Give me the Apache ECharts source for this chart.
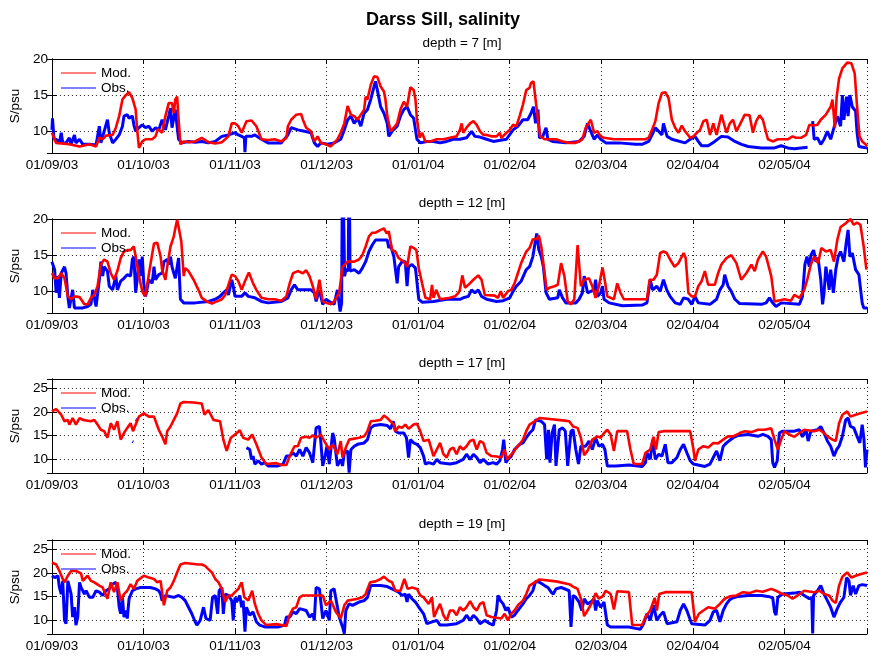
<!DOCTYPE html>
<html>
<head>
<meta charset="utf-8">
<script src="https://cdn.jsdelivr.net/npm/echarts@6/dist/echarts.min.js"></script>
<style>
html, body { margin: 0; padding: 0; background: #fff; }
#main { width: 870px; height: 658px; }
</style>
</head>
<body>
<div id="main"></div>
<script>
// days since 01/09/2003, salinity in psu
var tickLabels = ['01/09/03', '01/10/03', '01/11/03', '01/12/03', '01/01/04', '01/02/04', '02/03/04', '02/04/04', '02/05/04'];
var depths = [7, 12, 17, 19];

var mod7 = [[0,9.8],[1.4,8.4],[5.8,8.2],[9.2,7.9],[12.5,8.2],[14.7,7.9],[15.8,9.1],[16.9,8.9],[18.0,9.4],[20.2,9.5],[21.3,10.5],[22.4,12.1],[23.5,14.4],[24.6,15.0],[25.7,15.4],[26.8,14.6],[27.9,13.0],[28.4,10.2],[29.0,7.7],[30.1,8.6],[31.2,8.9],[33.4,8.9],[34.5,9.3],[35.3,10.3],[36.7,9.8],[37.8,12.1],[38.9,13.9],[40.0,13.9],[40.6,12.5],[41.1,14.4],[41.7,14.8],[42.2,11.6],[42.8,8.2],[43.9,8.6],[45.5,8.5],[47.7,8.6],[49.9,9.1],[52.1,8.5],[54.4,8.3],[56.6,8.5],[58.8,9.3],[59.9,11.1],[61.0,11.1],[62.1,10.7],[63.2,9.8],[64.8,11.4],[66.5,11.5],[68.1,10.7],[69.8,8.9],[72.0,8.8],[74.2,8.9],[76.4,8.6],[78.1,9.1],[78.6,10.7],[79.7,11.6],[81.4,12.3],[83.0,12.4],[83.6,11.6],[84.7,10.5],[86.3,10.0],[87.4,8.6],[88.5,9.3],[89.6,8.4],[91.3,8.2],[92.9,7.9],[94.0,8.4],[95.1,8.9],[96.2,9.8],[97.4,11.1],[98.5,13.5],[99.6,12.3],[100.7,12.1],[101.8,11.6],[102.9,12.3],[104.0,13.0],[104.5,14.8],[105.1,14.4],[106.2,16.4],[107.3,17.6],[108.4,17.5],[109.5,16.2],[110.6,15.5],[111.1,14.4],[111.7,12.1],[112.8,10.0],[113.9,10.5],[115.0,11.1],[116.1,13.0],[117.2,14.1],[118.3,13.4],[119.4,16.1],[120.5,15.7],[121.1,14.4],[121.6,11.6],[122.5,9.1],[123.3,9.8],[124.4,8.6],[126.0,8.6],[128.2,8.9],[130.4,8.9],[132.6,9.1],[134.8,9.3],[135.9,10.2],[136.5,11.1],[137.0,9.8],[138.1,10.5],[139.3,11.1],[140.4,11.4],[141.5,10.9],[142.6,10.0],[143.7,9.5],[144.8,9.5],[146.4,9.3],[148.1,9.3],[149.2,9.8],[149.7,9.1],[151.4,9.8],[152.5,10.2],[153.6,10.9],[154.7,10.7],[155.8,12.1],[156.9,13.7],[158.0,15.7],[159.1,16.0],[159.6,16.7],[160.4,16.9],[161.1,14.4],[161.9,11.6],[162.7,9.3],[164.1,8.9],[167.9,8.9],[170.1,8.6],[172.3,8.4],[174.5,8.4],[176.7,8.9],[177.8,10.5],[179.5,11.6],[180.6,9.8],[181.7,10.0],[182.8,9.3],[183.9,9.1],[187.2,8.9],[192.2,8.9],[197.7,8.9],[198.8,9.1],[199.9,10.2],[201.0,11.4],[202.1,13.9],[203.2,15.3],[204.3,15.4],[205.4,14.6],[206.5,11.6],[207.6,10.5],[208.7,9.8],[209.8,10.8],[210.9,10.0],[212.6,9.1],[213.7,9.3],[214.8,9.8],[215.9,10.2],[217.0,11.4],[218.1,11.6],[219.2,9.5],[220.3,11.1],[221.4,9.5],[223.0,12.3],[223.6,12.5],[224.7,9.8],[225.8,11.1],[226.9,11.6],[228.0,10.0],[229.1,10.9],[230.8,12.3],[232.4,12.2],[233.5,9.8],[234.6,11.4],[235.7,12.2],[236.8,11.6],[238.5,8.9],[240.1,8.6],[241.8,8.9],[245.1,8.9],[246.7,9.3],[247.8,9.1],[249.5,9.1],[251.2,9.5],[252.3,10.9],[253.9,10.8],[255.0,10.9],[256.1,11.6],[257.8,12.3],[259.4,13.4],[260.0,14.4],[260.8,10.5],[261.4,14.8],[262.2,17.3],[263.3,18.7],[264.9,19.5],[266.3,19.4],[267.4,18.0],[268.2,13.4],[269.0,9.3],[269.9,8.6],[271.0,8.2],[271.5,7.9]];

var obs7 = [[0,10.2],[0.2,11.8],[0.7,8.9],[1.4,8.9],[2.5,8.4],[3.1,9.8],[3.6,8.4],[4.7,8.4],[5.8,9.1],[6.4,8.2],[7.5,9.5],[8.0,8.4],[9.2,8.9],[10.3,8.2],[12.5,8.2],[14.7,8.1],[15.8,10.7],[16.3,8.4],[17.4,10.0],[18.5,11.6],[19.1,9.8],[20.2,8.4],[21.3,8.9],[22.4,9.5],[23.5,10.7],[24.0,12.1],[25.1,12.3],[25.7,11.8],[26.8,12.1],[27.3,10.9],[27.9,10.0],[29.0,10.5],[30.1,10.9],[31.2,10.5],[32.3,10.7],[33.4,10.0],[34.5,10.5],[35.6,10.2],[36.7,11.6],[37.8,10.2],[38.9,12.1],[39.5,13.2],[40.0,10.5],[41.1,13.0],[41.7,10.7],[42.2,8.9],[43.3,8.4],[45.5,8.6],[47.7,8.5],[49.9,8.6],[52.1,8.4],[54.4,8.6],[56.6,9.3],[58.8,9.5],[61.0,9.8],[62.1,9.5],[63.2,9.3],[64.1,9.1],[64.3,7.1],[64.6,9.3],[66.5,9.3],[67.6,9.5],[69.8,8.9],[72.0,8.4],[76.4,8.4],[78.6,9.5],[79.7,10.5],[81.9,10.2],[84.1,10.0],[86.3,9.8],[87.4,8.4],[88.5,7.9],[89.6,8.4],[91.8,8.2],[94.0,8.4],[96.2,8.9],[97.4,10.2],[98.5,11.6],[99.6,12.1],[100.7,11.1],[101.8,11.8],[102.9,10.7],[104.0,12.5],[105.1,13.0],[106.2,14.4],[107.3,16.2],[107.8,16.9],[108.4,15.7],[109.5,13.4],[110.6,12.5],[111.7,11.1],[112.2,9.3],[113.3,10.0],[115.0,10.7],[116.1,12.1],[117.2,13.0],[118.3,13.4],[119.4,12.3],[120.5,11.8],[121.1,10.2],[121.6,8.9],[122.7,8.4],[124.9,8.6],[127.1,8.6],[129.3,8.4],[131.5,8.6],[133.7,8.9],[135.9,8.9],[138.1,9.1],[139.8,10.0],[140.9,9.3],[142.6,9.2],[144.8,8.9],[147.0,8.6],[151.4,8.9],[153.6,10.2],[155.2,10.7],[156.9,11.6],[158.5,11.6],[159.6,12.5],[160.4,13.4],[161.1,11.1],[161.9,13.0],[162.4,9.1],[163.5,9.3],[164.6,10.5],[165.2,8.9],[166.8,8.6],[171.2,8.4],[175.6,8.6],[177.3,9.3],[178.4,11.1],[179.5,10.0],[180.6,8.9],[181.7,9.5],[182.8,8.9],[184.5,8.4],[188.9,8.4],[194.4,8.2],[196.6,8.2],[198.8,8.6],[199.9,9.5],[201.0,10.5],[202.1,10.0],[203.2,9.5],[203.7,11.1],[204.9,9.3],[206.5,8.9],[210.9,8.4],[212.6,8.9],[214.2,9.3],[215.3,8.6],[216.4,8.0],[218.6,8.0],[220.8,8.6],[223.0,9.3],[225.2,9.2],[227.5,8.6],[229.7,8.2],[231.9,7.9],[236.3,7.7],[240.7,7.7],[242.9,8.0],[245.1,7.7],[247.3,7.6],[251.7,7.8],[252.5,null],[253.4,11.4],[253.9,8.9],[255.0,9.1],[256.1,8.2],[257.2,8.9],[258.3,10.0],[259.4,8.9],[260.5,10.5],[261.6,12.1],[262.7,10.7],[263.3,15.0],[263.8,11.6],[264.7,14.8],[265.2,12.1],[265.8,15.0],[266.6,13.4],[267.7,12.8],[268.2,9.8],[268.8,7.9],[271.5,7.7]];

var mod12 = [[0,12.5],[0.9,11.8],[2.0,11.8],[3.1,12.5],[4.2,11.8],[5.3,9.3],[6.4,8.9],[7.5,9.3],[9.2,9.2],[10.8,8.2],[11.9,8.2],[13.0,9.1],[14.1,9.5],[15.2,10.7],[16.3,13.7],[17.4,14.4],[18.5,14.1],[19.6,12.5],[20.7,11.6],[21.8,12.8],[22.9,14.6],[24.0,15.5],[25.1,15.7],[26.2,15.7],[27.3,16.2],[27.9,14.8],[29.0,12.1],[30.1,10.0],[31.0,9.3],[31.8,11.1],[32.9,13.9],[34.0,16.6],[35.1,16.7],[36.2,14.8],[36.7,13.0],[37.8,11.6],[38.4,13.4],[39.5,16.2],[40.6,17.6],[41.1,18.7],[41.7,19.9],[42.2,18.9],[43.1,16.9],[43.9,12.1],[44.4,13.2],[45.5,12.8],[47.2,11.6],[48.8,10.2],[49.9,9.1],[51.6,8.6],[53.3,8.3],[54.9,8.6],[56.6,8.9],[57.7,9.5],[58.8,10.9],[59.9,12.3],[61.0,12.1],[62.1,11.4],[63.2,10.2],[64.3,11.4],[65.6,12.6],[67.0,11.1],[68.1,10.2],[69.8,9.1],[72.0,8.9],[74.2,8.9],[76.4,8.7],[78.1,9.3],[79.2,11.1],[80.3,12.5],[81.9,12.8],[83.6,12.5],[84.7,12.9],[85.8,12.1],[86.9,10.7],[88.0,8.9],[89.1,11.6],[90.2,8.6],[91.3,8.4],[92.9,8.2],[94.0,8.6],[95.7,9.8],[96.8,13.4],[98.5,14.1],[100.7,14.1],[102.3,14.4],[103.4,15.0],[104.5,16.2],[105.6,17.6],[106.7,18.1],[107.8,18.1],[109.5,18.5],[110.6,18.7],[111.5,18.0],[112.2,18.3],[113.3,15.7],[114.4,15.5],[115.5,14.6],[117.2,14.1],[118.3,13.4],[119.4,16.2],[120.5,16.0],[121.4,15.7],[122.2,13.2],[123.3,11.1],[124.4,9.1],[126.0,8.9],[126.6,10.9],[127.1,9.1],[128.0,10.2],[129.3,8.9],[132.6,9.1],[134.3,9.3],[135.4,9.8],[135.9,10.2],[136.7,12.2],[137.6,10.5],[138.7,10.9],[140.4,11.6],[142.0,12.2],[143.1,11.6],[144.2,9.5],[147.5,9.4],[148.6,9.1],[149.5,10.0],[150.3,9.1],[151.9,10.0],[153.0,10.2],[154.1,11.1],[155.2,12.5],[156.3,13.9],[158.0,15.5],[159.1,16.0],[160.2,17.2],[161.3,17.2],[162.2,17.7],[163.0,16.2],[164.1,12.5],[164.8,10.2],[165.7,10.5],[167.4,10.7],[168.5,10.9],[169.6,13.9],[170.7,12.1],[171.8,8.6],[172.9,8.2],[174.0,8.9],[175.1,16.4],[176.2,10.7],[177.3,11.6],[178.9,11.8],[180.0,10.7],[181.1,9.1],[182.2,10.7],[183.4,13.3],[184.2,11.4],[185.0,9.3],[187.2,8.9],[188.3,11.1],[189.4,9.8],[190.5,8.9],[198.2,8.9],[199.1,11.6],[200.4,11.6],[201.5,12.3],[202.6,15.3],[203.7,15.5],[204.8,15.3],[205.9,14.4],[207.4,13.4],[208.7,13.9],[210.4,15.3],[211.1,14.6],[212.0,9.8],[213.1,9.3],[214.2,9.3],[215.3,10.7],[216.4,11.4],[217.5,12.8],[218.6,10.9],[220.8,10.9],[221.9,12.5],[223.0,13.7],[224.7,14.6],[226.3,15.0],[228.0,13.9],[229.6,11.6],[231.3,12.5],[233.0,13.7],[234.1,12.8],[235.2,14.4],[236.8,15.5],[237.9,14.8],[239.6,12.1],[240.7,8.6],[244.0,8.9],[246.2,8.7],[247.3,9.5],[249.0,9.1],[250.6,10.2],[251.7,11.8],[252.8,13.7],[253.9,14.8],[255.2,13.9],[256.3,16.0],[257.8,15.5],[259.4,15.7],[260.5,14.1],[261.6,17.1],[262.7,18.9],[264.4,19.4],[266.0,20.0],[267.1,19.2],[268.2,19.5],[269.3,19.2],[270.4,16.2],[271.3,13.0]];

var obs12 = [[0,14.1],[0.9,13.0],[1.4,9.8],[2.0,12.1],[2.5,9.1],[3.1,12.5],[4.2,13.4],[4.7,12.5],[5.3,9.3],[5.8,7.7],[6.9,10.2],[7.5,7.7],[10.3,7.7],[11.9,7.9],[13.0,8.2],[13.6,10.2],[14.7,7.9],[15.8,11.6],[16.3,14.1],[16.9,12.1],[17.4,13.4],[18.5,12.8],[19.1,10.7],[20.2,10.2],[21.3,12.1],[21.8,10.2],[22.9,11.4],[24.0,11.8],[25.1,12.3],[26.2,12.1],[26.8,14.4],[27.3,14.8],[27.9,9.8],[28.4,11.6],[29.0,14.4],[29.5,12.1],[30.1,14.8],[30.6,11.1],[31.2,9.3],[32.3,11.6],[33.4,11.1],[34.0,13.4],[34.5,11.6],[35.6,12.3],[36.7,12.5],[37.3,14.1],[38.4,14.4],[38.9,13.7],[39.5,14.8],[40.0,13.4],[41.1,11.8],[42.2,14.6],[42.8,8.9],[43.9,8.4],[47.7,8.4],[52.1,8.6],[54.4,8.9],[56.0,9.3],[57.1,9.8],[58.2,10.2],[58.8,9.5],[59.9,11.6],[60.4,10.7],[61.0,9.3],[63.2,9.3],[64.3,9.8],[65.4,9.3],[67.6,9.1],[69.8,8.6],[72.0,8.4],[76.4,8.6],[78.6,9.1],[79.7,10.2],[80.8,10.9],[81.9,10.2],[86.3,10.2],[87.4,9.8],[88.0,8.6],[89.1,10.2],[90.2,8.2],[91.3,8.9],[92.4,8.6],[94.0,8.2],[95.1,10.2],[96.0,7.2],[96.5,8.4],[96.8,30],[97.1,30],[97.5,12.1],[97.9,13.0],[98.7,12.8],[99.0,30],[99.3,12.8],[100.7,13.0],[102.3,12.5],[103.4,13.2],[104.5,14.1],[105.6,15.5],[106.7,16.4],[107.8,17.1],[111.7,17.1],[112.2,16.0],[112.8,16.4],[113.9,14.8],[115.0,11.1],[115.5,13.4],[116.6,14.1],[117.7,14.1],[118.3,10.7],[118.8,13.4],[119.9,13.7],[121.1,13.2],[122.2,8.9],[123.3,8.5],[127.1,8.6],[131.5,8.9],[135.9,8.9],[137.0,9.1],[138.7,9.3],[139.8,10.2],[140.9,9.8],[142.0,10.2],[143.1,9.3],[144.8,8.9],[148.1,8.6],[150.3,8.7],[152.5,9.1],[153.6,10.0],[154.7,10.7],[156.3,11.4],[158.0,13.0],[159.1,13.4],[160.2,14.8],[161.1,17.1],[161.5,18.0],[162.2,15.7],[163.0,14.8],[163.7,13.4],[164.6,9.8],[165.7,8.9],[168.5,9.1],[169.0,10.2],[170.1,9.1],[171.2,8.4],[174.5,8.4],[175.6,8.9],[176.7,9.8],[177.3,12.1],[178.4,9.8],[180.6,10.2],[181.1,11.6],[181.7,9.3],[182.8,9.8],[183.4,10.7],[183.9,8.9],[185.6,8.4],[190.0,8.0],[196.6,8.1],[198.2,8.4],[199.3,11.6],[200.1,10.2],[201.5,10.7],[202.6,10.0],[203.7,11.6],[204.8,10.2],[205.9,9.3],[207.6,8.4],[209.3,8.2],[210.4,9.1],[212.0,8.9],[213.1,8.2],[214.2,9.3],[215.3,8.4],[219.2,8.2],[221.4,8.9],[222.5,10.2],[223.6,10.9],[224.1,12.3],[225.2,10.7],[226.3,10.0],[227.5,8.9],[229.1,8.3],[236.3,8.2],[237.9,8.4],[239.0,9.1],[240.1,8.4],[241.2,7.9],[242.9,8.4],[249.0,8.2],[250.0,9.3],[250.8,13.7],[251.5,14.8],[252.3,13.4],[252.8,15.0],[253.7,15.7],[254.5,14.1],[255.2,14.6],[256.1,11.6],[256.7,8.2],[257.2,9.8],[257.8,13.4],[258.3,12.1],[258.9,10.2],[259.4,13.0],[260.3,9.8],[261.1,13.0],[261.9,14.8],[262.7,15.5],[263.8,14.1],[264.7,17.1],[265.2,18.5],[265.8,14.8],[266.6,15.3],[267.7,13.0],[268.8,12.3],[269.3,10.5],[269.9,8.4],[270.4,7.7],[271.5,7.7]];

var mod17 = [[0,20.1],[1.4,20.6],[2.0,20.8],[3.1,19.4],[4.2,18.0],[5.3,18.3],[5.8,17.3],[6.4,18.0],[6.9,18.7],[8.0,17.3],[9.2,18.7],[10.3,18.3],[13.0,18.0],[14.1,18.3],[15.2,17.3],[16.3,16.2],[17.4,15.9],[18.5,14.5],[19.6,17.6],[20.7,16.2],[21.8,18.0],[22.9,14.1],[24.0,15.5],[25.1,16.6],[26.2,17.6],[27.0,15.9],[27.9,17.3],[29.0,19.0],[30.6,19.7],[32.3,19.0],[34.0,19.0],[35.6,16.2],[36.7,14.8],[37.8,13.1],[38.4,15.9],[39.5,16.9],[40.6,18.3],[41.7,19.7],[42.8,21.8],[43.9,22.1],[47.2,22.0],[49.9,21.8],[50.8,19.4],[52.1,20.4],[52.7,20.1],[53.8,18.3],[56.0,18.0],[57.1,14.1],[58.2,11.7],[58.8,11.7],[59.6,14.5],[61.0,15.2],[62.6,16.1],[63.7,14.5],[65.4,14.1],[66.7,15.2],[68.1,13.1],[69.8,10.3],[71.4,8.9],[74.8,9.1],[76.4,8.7],[78.1,8.7],[79.2,10.6],[80.8,12.7],[81.9,12.7],[83.0,14.5],[84.7,14.7],[85.8,14.5],[86.9,15.0],[88.0,14.5],[89.6,15.2],[90.7,13.8],[92.4,12.0],[93.5,13.1],[95.1,11.0],[96.2,13.8],[96.8,10.3],[97.9,12.4],[99.0,14.1],[102.3,14.5],[104.0,14.8],[105.1,15.9],[106.2,18.0],[107.8,18.1],[109.5,18.3],[110.6,19.2],[111.7,18.7],[112.8,18.0],[113.9,17.3],[114.4,15.9],[115.5,16.9],[116.6,16.6],[117.7,17.3],[118.8,16.4],[120.5,17.3],[121.6,17.5],[122.7,15.9],[123.8,13.8],[125.5,14.1],[127.1,10.6],[128.2,12.0],[129.3,13.4],[130.4,11.0],[131.5,10.3],[132.6,12.0],[133.7,12.4],[134.8,11.0],[135.9,12.7],[137.0,12.0],[138.1,12.7],[139.3,13.8],[140.4,14.1],[141.5,12.0],[142.6,13.8],[143.7,13.4],[144.8,11.3],[146.4,10.6],[148.1,10.5],[149.7,10.3],[150.8,12.0],[151.6,9.9],[152.5,10.6],[153.6,11.3],[154.7,12.4],[155.8,13.1],[156.9,14.1],[158.0,15.9],[159.1,17.3],[160.8,18.0],[162.4,18.7],[165.7,18.5],[170.1,18.2],[172.3,18.0],[173.6,16.9],[175.1,16.6],[176.2,14.5],[177.3,10.8],[178.4,11.7],[180.0,14.1],[181.7,14.8],[182.8,14.5],[183.9,15.5],[185.0,16.2],[186.1,15.2],[187.2,11.7],[188.3,15.9],[191.6,15.9],[192.7,12.0],[193.8,8.9],[196.6,8.9],[197.7,11.3],[199.3,12.0],[200.4,14.7],[201.2,12.0],[202.1,15.7],[203.7,15.9],[212.6,15.9],[213.7,12.0],[214.2,9.6],[215.3,12.0],[217.0,12.7],[218.6,12.4],[220.3,13.4],[221.9,13.3],[223.6,14.1],[225.2,14.8],[226.9,14.8],[229.1,15.5],[230.8,15.9],[233.0,15.7],[235.2,16.2],[237.4,16.2],[239.6,16.5],[240.7,14.1],[241.8,12.0],[242.9,14.1],[244.0,15.9],[245.6,15.2],[247.3,14.7],[249.0,15.5],[250.6,16.2],[253.9,15.9],[255.6,16.2],[257.2,15.5],[258.3,14.8],[260.0,14.1],[261.1,13.8],[262.2,17.6],[263.3,19.4],[264.9,20.1],[266.0,19.0],[267.7,19.4],[269.3,19.7],[271.5,20.1]];

var obs17 = [[26.8,13.7],[27.1,13.6],[27.4,null],[27.9,18.4],[28.2,18.3],[28.5,null],[64.8,12.4],[65.9,12.0],[66.5,9.9],[67.0,10.6],[67.6,8.9],[68.7,9.6],[69.8,8.9],[70.9,9.2],[72.0,8.5],[75.3,8.5],[77.0,8.9],[78.1,10.6],[79.2,10.6],[80.3,11.3],[81.4,10.6],[82.5,12.0],[83.6,10.6],[84.7,12.4],[85.8,11.3],[86.9,9.2],[88.0,16.6],[89.1,16.9],[89.6,13.4],[90.2,8.5],[91.0,10.6],[91.6,12.7],[92.4,8.9],[93.5,15.5],[94.0,14.5],[95.1,8.5],[96.2,9.9],[96.8,8.5],[97.4,11.3],[98.5,11.7],[99.0,7.1],[99.6,12.0],[100.7,12.7],[101.8,13.1],[104.0,13.4],[105.1,14.1],[106.2,16.6],[107.3,17.1],[109.5,17.3],[111.7,17.1],[112.8,16.4],[113.7,18.0],[114.4,15.9],[115.5,15.5],[117.2,15.5],[118.1,14.5],[118.8,10.3],[119.4,14.1],[120.5,13.4],[121.6,13.1],[122.7,12.4],[123.8,10.6],[124.4,8.9],[125.5,9.2],[127.1,8.9],[128.2,9.9],[129.3,9.2],[132.6,8.9],[134.8,9.2],[137.0,9.9],[138.1,11.0],[139.3,9.9],[140.4,11.0],[141.5,10.3],[142.6,9.2],[143.7,9.9],[145.3,8.9],[147.0,9.2],[148.1,8.9],[149.2,9.6],[150.1,12.0],[150.5,14.1],[151.2,9.2],[151.9,9.9],[153.0,10.6],[154.1,12.0],[155.8,13.1],[156.9,13.4],[158.0,14.5],[159.1,15.5],[160.2,16.2],[161.1,18.3],[163.0,18.0],[164.1,17.3],[164.8,9.9],[165.4,16.2],[165.9,9.2],[166.6,15.5],[167.4,17.3],[167.9,8.5],[169.0,16.2],[170.1,16.6],[171.0,15.9],[171.8,8.5],[172.3,12.0],[172.9,15.9],[173.6,16.2],[174.5,12.0],[175.4,8.9],[176.2,12.7],[177.8,12.7],[178.9,13.8],[180.0,12.0],[181.1,14.5],[182.2,12.7],[183.4,13.1],[184.2,12.0],[185.0,8.5],[187.8,8.5],[192.2,8.7],[196.6,8.4],[197.7,9.2],[198.2,11.3],[199.3,9.9],[200.1,14.1],[201.0,9.9],[202.1,11.0],[203.2,10.6],[204.3,13.1],[205.2,9.2],[206.5,9.2],[208.2,10.3],[209.3,12.0],[210.4,13.1],[211.5,11.3],[212.6,9.6],[213.7,8.9],[217.5,8.4],[219.2,8.9],[220.3,10.3],[221.4,11.7],[222.5,9.6],[223.6,12.7],[224.7,13.4],[226.9,14.5],[228.6,15.0],[231.9,15.2],[235.2,14.8],[236.8,15.2],[238.5,14.8],[239.6,14.1],[240.1,9.2],[240.7,8.2],[241.6,9.6],[242.3,15.5],[243.4,15.9],[247.3,15.9],[249.0,16.2],[250.0,14.7],[251.2,16.2],[251.9,13.8],[252.8,15.9],[255.0,16.2],[256.1,16.9],[257.2,15.5],[258.3,13.8],[259.4,12.7],[260.5,10.6],[261.4,12.0],[262.2,12.7],[263.3,14.8],[264.4,18.3],[265.2,18.7],[266.0,16.9],[267.1,16.6],[268.2,14.8],[269.1,13.4],[269.9,17.3],[270.5,14.1],[271.0,8.2],[271.5,12.0]];

var mod19 = [[0,22.2],[1.4,21.8],[2.5,20.4],[3.4,19.0],[4.2,18.0],[5.3,19.4],[6.4,20.4],[8.0,20.4],[9.7,19.9],[10.3,18.3],[11.9,19.4],[13.0,18.3],[14.1,18.0],[15.8,17.3],[16.9,16.9],[18.5,14.5],[19.6,18.0],[20.7,15.9],[21.8,18.0],[22.9,14.1],[24.0,15.5],[25.1,16.2],[26.2,17.6],[27.3,16.6],[28.4,18.3],[30.6,19.4],[32.3,19.0],[34.0,18.7],[35.1,18.0],[36.2,18.3],[37.3,13.1],[38.4,16.2],[39.5,16.9],[40.6,18.3],[41.7,20.1],[42.8,21.8],[44.4,22.1],[48.8,21.8],[49.9,21.8],[51.0,21.5],[52.1,20.8],[53.3,20.1],[54.4,18.7],[55.5,18.0],[56.6,16.6],[57.7,13.8],[58.8,15.2],[59.9,15.2],[61.0,15.9],[62.1,16.6],[63.2,18.0],[64.1,14.8],[65.4,14.1],[66.7,16.2],[67.6,13.4],[68.7,11.3],[69.8,9.9],[71.4,8.9],[74.8,9.1],[78.1,8.7],[79.2,11.0],[80.3,12.4],[81.4,12.7],[82.5,14.8],[83.6,15.2],[86.9,15.2],[90.2,15.2],[91.3,13.1],[92.9,14.1],[94.6,11.7],[96.2,10.3],[97.4,13.1],[98.5,14.1],[100.1,14.3],[101.8,14.5],[103.4,14.8],[104.5,15.5],[106.0,18.0],[107.8,18.2],[109.5,18.7],[110.6,19.2],[112.2,18.3],[113.3,18.0],[114.4,16.2],[116.1,16.2],[117.4,18.7],[118.5,16.6],[120.0,16.9],[121.6,16.6],[122.7,15.2],[123.8,14.8],[125.5,13.4],[126.6,14.8],[127.3,10.6],[128.2,12.0],[129.3,13.4],[130.4,11.0],[131.5,9.9],[132.6,12.0],[133.7,12.0],[134.8,11.0],[135.9,12.7],[137.0,12.0],[138.1,12.7],[139.3,14.0],[140.4,12.7],[141.5,12.0],[142.6,13.4],[143.7,13.8],[144.8,11.0],[146.4,10.6],[149.7,10.3],[150.8,11.3],[151.9,9.9],[153.0,11.3],[154.1,12.0],[155.2,13.1],[156.9,14.1],[158.0,15.5],[159.1,17.3],[160.8,18.0],[162.4,18.6],[167.9,18.2],[172.3,17.6],[173.6,17.1],[175.1,16.6],[176.2,14.5],[177.3,10.8],[178.4,12.0],[180.0,13.8],[181.1,15.7],[182.2,14.5],[183.4,15.0],[184.5,16.2],[186.1,15.5],[187.2,12.2],[188.3,16.1],[192.2,15.9],[193.3,8.9],[196.6,8.9],[197.7,10.6],[199.3,12.0],[200.8,14.7],[201.5,12.0],[202.3,15.5],[204.3,15.9],[213.1,15.9],[214.2,9.6],[215.5,11.3],[217.0,12.0],[218.6,12.7],[220.8,12.4],[222.5,13.4],[224.1,14.5],[225.8,15.0],[228.0,15.2],[230.2,15.9],[232.4,15.7],[234.6,16.2],[236.8,16.0],[239.6,16.6],[241.2,16.2],[243.4,15.5],[245.1,15.2],[246.7,14.5],[248.4,15.2],[250.6,16.2],[253.9,15.9],[255.6,16.2],[257.2,15.5],[258.9,15.2],[260.0,14.1],[261.1,13.6],[262.2,17.3],[263.3,19.2],[264.9,20.1],[266.3,19.0],[267.7,19.4],[269.3,19.7],[271.5,20.1]];

var obs19 = [[0,19.4],[0.9,19.0],[1.4,18.7],[2.0,19.4],[2.5,16.9],[3.1,15.5],[3.6,18.3],[4.2,9.9],[4.7,9.2],[5.3,18.3],[5.8,18.0],[6.4,15.5],[6.9,10.6],[7.5,12.7],[8.0,8.9],[8.6,10.6],[9.2,18.0],[9.7,16.9],[10.3,16.2],[10.8,15.5],[11.4,16.2],[12.5,14.8],[13.6,14.8],[14.7,16.2],[15.8,15.9],[16.9,15.2],[18.0,16.2],[19.1,16.6],[20.2,17.6],[21.3,18.0],[21.8,16.9],[22.4,12.7],[22.9,11.3],[23.5,14.8],[24.0,10.6],[24.6,12.0],[25.1,10.3],[25.7,14.5],[26.8,16.2],[27.9,16.6],[29.5,16.9],[32.8,16.9],[34.5,16.6],[35.6,16.2],[36.2,15.5],[36.7,14.1],[37.8,15.2],[40.6,14.8],[42.2,15.2],[43.3,14.8],[44.4,14.1],[45.5,12.7],[46.6,11.3],[47.7,9.6],[48.3,8.9],[49.4,9.9],[50.5,12.7],[51.3,10.3],[52.7,9.9],[53.5,14.8],[54.4,15.2],[55.2,11.3],[55.7,16.2],[56.6,16.9],[57.1,11.3],[57.7,15.5],[58.8,15.2],[59.9,14.1],[60.4,9.9],[61.0,14.8],[61.5,13.8],[62.6,15.2],[63.2,12.7],[63.7,14.1],[64.3,7.5],[64.8,12.7],[65.9,11.0],[67.0,11.7],[68.1,9.6],[69.2,8.9],[70.9,8.5],[75.3,8.5],[77.5,8.9],[78.1,10.6],[79.2,10.6],[80.3,11.7],[81.4,11.3],[82.5,12.4],[84.7,12.0],[85.8,10.6],[86.9,11.3],[87.4,9.9],[88.0,16.9],[89.1,16.6],[90.2,10.3],[91.3,12.0],[92.4,9.9],[92.9,16.2],[94.0,16.6],[94.6,14.5],[95.7,10.6],[96.8,8.5],[97.4,7.1],[97.9,12.0],[99.0,13.4],[100.1,13.1],[102.3,13.8],[104.0,14.1],[105.1,14.8],[106.2,17.3],[109.5,17.3],[111.7,17.1],[113.3,16.6],[115.5,15.9],[116.6,15.2],[117.7,15.5],[118.3,13.8],[118.8,15.5],[119.9,14.5],[121.1,13.8],[122.2,12.7],[123.8,11.3],[124.9,9.2],[128.2,9.9],[129.3,8.9],[131.5,8.9],[134.8,9.2],[137.0,9.9],[138.1,11.0],[139.3,9.9],[140.4,11.0],[141.5,10.3],[142.6,9.2],[144.2,9.9],[145.9,9.2],[147.0,8.9],[148.1,12.0],[148.6,15.2],[149.4,14.1],[150.3,13.4],[151.2,12.0],[151.9,12.7],[153.0,10.6],[154.1,11.0],[155.2,12.0],[156.9,13.4],[158.0,14.5],[159.1,15.2],[160.2,16.2],[161.1,18.2],[162.4,18.0],[164.1,17.3],[165.2,16.9],[166.3,15.9],[167.0,15.5],[167.9,16.6],[169.6,16.9],[172.3,16.2],[172.9,8.5],[173.6,15.2],[174.5,14.8],[175.6,13.8],[176.5,12.0],[177.3,14.5],[178.4,13.4],[179.5,13.8],[180.6,14.5],[181.1,12.0],[181.7,14.1],[182.8,12.7],[183.9,13.8],[185.0,8.9],[186.1,8.5],[192.2,8.5],[194.4,8.2],[196.0,8.0],[197.1,9.2],[198.2,11.3],[199.3,9.9],[200.4,13.1],[201.5,9.9],[202.6,11.0],[203.7,11.7],[204.9,9.2],[208.2,9.6],[209.3,12.0],[210.4,13.4],[211.5,12.0],[213.1,9.2],[217.5,8.9],[219.2,9.9],[220.3,11.7],[221.4,12.0],[222.5,9.6],[223.6,12.0],[224.7,13.4],[225.8,14.3],[226.9,14.7],[228.6,15.0],[231.9,15.2],[236.3,15.2],[238.5,15.0],[240.1,14.7],[240.7,11.7],[241.2,11.0],[241.8,14.8],[243.4,15.5],[247.3,15.7],[249.0,15.9],[250.6,15.2],[252.3,14.5],[253.1,14.8],[253.4,7.1],[253.7,15.2],[255.0,16.2],[256.1,17.3],[257.2,15.5],[258.3,14.1],[259.4,12.7],[260.5,10.6],[261.6,12.4],[262.7,13.8],[263.8,14.8],[264.7,19.0],[265.5,18.3],[266.0,15.2],[266.9,17.3],[267.7,15.5],[268.8,17.3],[269.9,17.5],[271.5,17.3]];

var obsList = [obs7, obs12, obs17, obs19];
var modList = [mod7, mod12, mod17, mod19];
var yMin = [7, 7, 7, 7];
var yMax = [20, 20, 27, 27];

var FONT = '"Liberation Sans", Arial, Helvetica, sans-serif';
var TICK_STEP = 30.5;
var gridTops = [59, 219, 379, 540];
var gridH = 94;

var myChart = echarts.init(document.getElementById('main'));

var grids = [], xAxes = [], yAxes = [], series = [], legends = [];
var graphics = [{
    type: 'text', x: 443, y: 20,
    style: { text: 'Darss Sill, salinity', font: 'bold 18px ' + FONT, fill: '#000',
             textAlign: 'center', textVerticalAlign: 'middle', align: 'center', verticalAlign: 'middle' }
}];

function xLabel(v) {
    var i = Math.round(v / TICK_STEP);
    if (Math.abs(v - i * TICK_STEP) < 0.01 && i < tickLabels.length) return tickLabels[i];
    return '';
}

var dotted = { color: '#222', width: 1, type: [1, 3] };

for (var k = 0; k < 4; k++) {
    grids.push({ left: 49, right: 1, top: gridTops[k], height: gridH, show: false });

    // bottom x axis with labels and dotted grid lines
    xAxes.push({
        type: 'value', gridIndex: k, position: 'bottom', min: 0, max: 271.5, interval: TICK_STEP,
        axisLine: { show: true, onZero: false, lineStyle: { color: '#000', width: 1 } },
        axisTick: { show: true, inside: true, length: 5, lineStyle: { color: '#000' } },
        axisLabel: { formatter: xLabel, color: '#000', fontSize: 13.5, fontFamily: FONT, margin: 5,
                     showMinLabel: true, showMaxLabel: true, hideOverlap: false },
        splitLine: { show: true, lineStyle: dotted }
    });
    // top x axis (box)
    xAxes.push({
        type: 'value', gridIndex: k, position: 'top', min: 0, max: 271.5, interval: TICK_STEP,
        axisLine: { show: true, onZero: false, lineStyle: { color: '#000', width: 1 } },
        axisTick: { show: true, inside: true, length: 5, lineStyle: { color: '#000' } },
        axisLabel: { show: false },
        splitLine: { show: false }
    });
    // left y axis; splitNumber 3 gives ticks every 5 from 10
    yAxes.push({
        type: 'value', gridIndex: k, position: 'left', min: yMin[k], max: yMax[k], splitNumber: 3,
        name: 'S/psu', nameLocation: 'middle', nameGap: 26, nameRotate: 90,
        nameTextStyle: { color: '#000', fontSize: 13.5, fontFamily: FONT },
        axisLine: { show: true, lineStyle: { color: '#000', width: 1 } },
        axisTick: { show: true, inside: true, length: 5, lineStyle: { color: '#000' } },
        axisLabel: { formatter: function (v) { return v % 5 === 0 ? String(v) : ''; },
                     color: '#000', fontSize: 13.5, fontFamily: FONT, margin: 4,
                     showMinLabel: true, showMaxLabel: true, hideOverlap: false },
        splitLine: { show: true, lineStyle: dotted }
    });
    // right y axis (box)
    yAxes.push({
        type: 'value', gridIndex: k, position: 'right', min: yMin[k], max: yMax[k], splitNumber: 3,
        axisLine: { show: true, lineStyle: { color: '#000', width: 1 } },
        axisTick: { show: true, inside: true, length: 5, lineStyle: { color: '#000' } },
        axisLabel: { show: false },
        splitLine: { show: false }
    });

    series.push({
        name: 'Obs.', type: 'line', xAxisIndex: 2 * k, yAxisIndex: 2 * k,
        data: obsList[k], symbol: 'none', showSymbol: false, connectNulls: false,
        lineStyle: { color: '#0000ff', width: 3 }, itemStyle: { color: '#0000ff' },
        animation: false, z: 2
    });
    series.push({
        name: 'Mod.', type: 'line', xAxisIndex: 2 * k, yAxisIndex: 2 * k,
        data: modList[k], symbol: 'none', showSymbol: false,
        lineStyle: { color: '#ff0000', width: 2.6 }, itemStyle: { color: '#ff0000' },
        animation: false, z: 3
    });

    legends.push({
        data: ['Mod.', 'Obs.'], orient: 'vertical',
        left: 61, top: gridTops[k] + 6.5, right: 'auto', bottom: 'auto',
        itemWidth: 35, itemHeight: 1, itemGap: 0, padding: 0,
        icon: 'rect', selectedMode: false,
        textStyle: { color: '#000', fontSize: 13.5, fontFamily: FONT, lineHeight: 15 }
    });

    graphics.push({
        type: 'text', x: 462, y: gridTops[k] - 15.5,
        style: { text: 'depth = ' + depths[k] + ' [m]', font: '13.5px ' + FONT, fill: '#000',
                 textAlign: 'center', textVerticalAlign: 'middle', align: 'center', verticalAlign: 'middle' }
    });
}

var option = {
    backgroundColor: '#fff',
    animation: false,
    grid: grids,
    xAxis: xAxes,
    yAxis: yAxes,
    legend: legends,
    graphic: graphics,
    series: series
};
myChart.setOption(option);
</script>
</body>
</html>
